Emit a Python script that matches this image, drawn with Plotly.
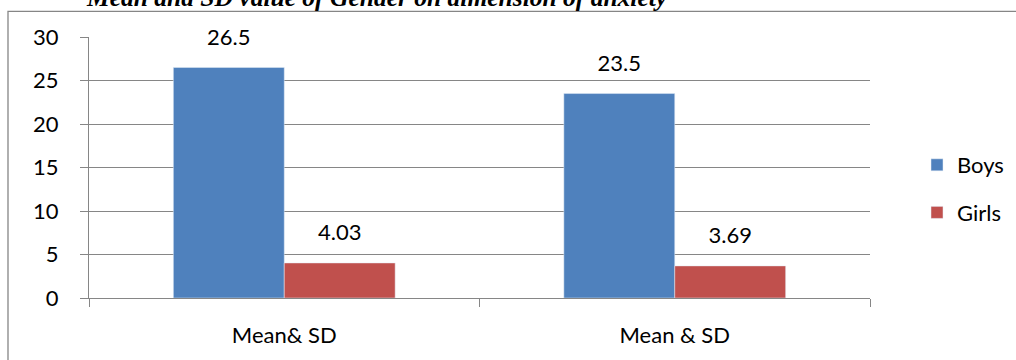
import plotly.graph_objects as go

categories = ["Mean& SD", "Mean & SD"]
boys = [26.5, 23.5]
girls = [4.03, 3.69]
series_names = ["Boys", "Girls"]
y_ticks = [0, 5, 10, 15, 20, 25, 30]
title_text = "Mean and SD value of Gender on dimension of anxiety"

FONT = "Lato"
GRID = "#868686"
colors = ["#4F81BD", "#C0504D"]

fig = go.Figure()
for i, (vals, name) in enumerate(zip([boys, girls], series_names)):
    fig.add_trace(go.Bar(x=categories, y=vals, name=name, marker_color=colors[i],
                         offsetgroup=str(i), alignmentgroup="g",
                         legendgroup=name))
for i, vals in enumerate([boys, girls]):
    fig.add_trace(go.Scatter(x=categories, y=vals, mode="markers+text",
                             text=[str(v) for v in vals], textposition="top center",
                             textfont=dict(family=FONT, size=22, color="black"),
                             marker=dict(size=26, opacity=0),
                             offsetgroup=str(i), alignmentgroup="g",
                             showlegend=False, hoverinfo="skip", cliponaxis=False))

fig.update_layout(
    width=1016, height=360,
    margin=dict(l=89, r=146, t=37, b=58),
    paper_bgcolor="white", plot_bgcolor="white",
    barmode="group", bargap=0.432, bargroupgap=0,
    scattermode="group", scattergap=0.432,
    font=dict(family=FONT, size=22, color="black"),
    showlegend=True,
    legend=dict(xref="container", yref="container", x=917 / 1016, y=1 - 189 / 360,
                xanchor="left", yanchor="middle",
                font=dict(family=FONT, size=22), tracegroupgap=16,
                bgcolor="rgba(0,0,0,0)"),
)
fig.update_yaxes(range=[0, 30], tickvals=y_ticks, showgrid=True, gridcolor=GRID, gridwidth=1.3,
                 showline=True, linecolor=GRID, linewidth=1.3, ticks="outside", ticklen=8,
                 tickcolor=GRID, tickwidth=1.3, ticklabelstandoff=17, zeroline=False,
                 tickfont=dict(family=FONT, size=22))
fig.update_xaxes(showline=True, linecolor=GRID, linewidth=1.3, ticks="outside", ticklen=8,
                 tickcolor=GRID, tickwidth=1.3, tickson="boundaries", ticklabelstandoff=17,
                 tickfont=dict(family=FONT, size=22))

# outer chart border
fig.add_shape(type="rect", xref="paper", yref="paper",
              x0=(8 - 89) / 781, x1=(1030 - 89) / 781,
              y0=(302 - 370) / 265, y1=(302 - 11) / 265,
              line=dict(color=GRID, width=1.3), fillcolor="rgba(0,0,0,0)", layer="below")

fig.add_annotation(text="<b><i>" + title_text + "</i></b>", xref="paper", yref="paper",
                   x=(377 - 89) / 781, y=1, xanchor="center", yanchor="bottom", yshift=23,
                   showarrow=False, font=dict(family="Liberation Serif", size=25.5, color="black"))

fig.write_html("out.html")
